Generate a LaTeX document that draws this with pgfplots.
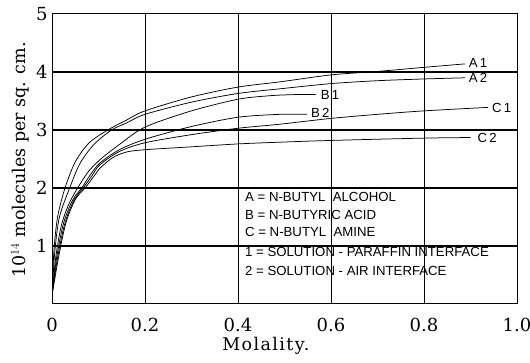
\documentclass[border=0pt]{standalone}
\usepackage{fontspec}
\setmainfont{DejaVu Serif}
\newfontfamily\lgfont{Liberation Sans}
\usepackage{pgfplots}
\pgfplotsset{compat=1.18}
\begin{document}
\begin{tikzpicture}
\useasboundingbox (-52pt,-59pt) rectangle (478pt,304pt);
\begin{axis}[
  at={(0,0)}, anchor=south west,
  scale only axis, width=465pt, height=290pt,
  xmin=0, xmax=1, ymin=0, ymax=5,
  xtick={0,0.2,0.4,0.6,0.8,1.0},
  xticklabels={0,0.2,0.4,0.6,0.8,1.0},
  ytick={1,2,3,4,5},
  major tick length=0pt,
  /pgf/number format/assume math mode=true,
  ticklabel style={font=\fontsize{18}{18}\selectfont},
  xticklabel style={yshift=-11pt},
  yticklabel style={xshift=-1pt},
  axis line style={black, line width=1pt},
  xmajorgrids,
  major grid style={black, line width=0.6pt},
  extra y ticks={1,2,3,4},
  extra y tick labels={},
  extra y tick style={grid=major, major grid style={black, line width=1.3pt}},
  xlabel={Molality.},
  ylabel={10$^{14}$ molecules per sq. cm.},
  xlabel style={at={(ticklabel cs:0.46)}, yshift=2pt, font=\fontsize{17.5}{17.5}\selectfont\addfontfeature{LetterSpace=8}},
  every axis y label/.style={at={(axis description cs:-0.069,0.497)}, rotate=90, anchor=center, font=\fontsize{17.5}{17.5}\selectfont},
]
% A1
\addplot[black, line width=0.75pt, smooth, tension=0.5] coordinates {
 (0,0.15) (0.004,0.9) (0.012,1.5) (0.028,2.0) (0.05,2.45) (0.08,2.78) (0.12,3.0)
 (0.16,3.17) (0.2,3.33) (0.3,3.57) (0.4,3.74) (0.49,3.83) (0.6,3.95) (0.7,4.01)
 (0.8,4.08) (0.888,4.14)};
% A2
\addplot[black, line width=0.75pt, smooth, tension=0.5] coordinates {
 (0,0.15) (0.006,0.9) (0.016,1.5) (0.038,2.0) (0.06,2.42) (0.09,2.75) (0.128,3.0)
 (0.16,3.12) (0.2,3.27) (0.3,3.48) (0.4,3.63) (0.49,3.71) (0.6,3.80) (0.7,3.85)
 (0.8,3.88) (0.888,3.90)};
% B1
\addplot[black, line width=0.75pt, smooth, tension=0.5] coordinates {
 (0,0.15) (0.008,0.8) (0.02,1.35) (0.035,1.7) (0.055,2.0) (0.08,2.3) (0.105,2.5)
 (0.145,2.75) (0.2,3.05) (0.3,3.33) (0.4,3.53) (0.467,3.59) (0.52,3.61) (0.567,3.61)};
% B2
\addplot[black, line width=0.75pt, smooth, tension=0.5] coordinates {
 (0,0.15) (0.01,0.8) (0.025,1.4) (0.045,1.8) (0.064,2.0) (0.08,2.2) (0.103,2.43)
 (0.145,2.66) (0.2,2.84) (0.3,3.06) (0.4,3.22) (0.49,3.27) (0.548,3.27)};
% C1
\addplot[black, line width=0.75pt, smooth, tension=0.5] coordinates {
 (0,0.15) (0.012,0.8) (0.028,1.4) (0.048,1.8) (0.067,2.0) (0.085,2.2) (0.103,2.40)
 (0.145,2.63) (0.2,2.78) (0.3,2.92) (0.4,3.03) (0.49,3.10) (0.6,3.20) (0.7,3.27)
 (0.8,3.33) (0.938,3.39)};
% C2
\addplot[black, line width=0.75pt, smooth, tension=0.5] coordinates {
 (0,0.15) (0.014,0.8) (0.03,1.4) (0.05,1.8) (0.071,2.0) (0.09,2.2) (0.103,2.34)
 (0.13,2.52) (0.16,2.62) (0.2,2.66) (0.3,2.71) (0.4,2.76) (0.49,2.79) (0.6,2.82)
 (0.8,2.86) (0.9,2.87)};
\begin{scope}[every node/.style={anchor=west, font=\lgfont\fontsize{13.2}{13.2}\selectfont, inner sep=0pt}]
\node at (axis cs:0.896,4.16) {A\,1};
\node at (axis cs:0.896,3.89) {A\,2};
\node at (axis cs:0.578,3.61) {B\,1};
\node at (axis cs:0.557,3.29) {B\,2};
\node at (axis cs:0.946,3.38) {C\,1};
\node at (axis cs:0.915,2.87) {C\,2};
\node at (axis cs:0.415,1.845) {A = N-BUTYL\ \ ALCOHOL};
\node at (axis cs:0.415,1.534) {B = N-BUTYRIC\ ACID};
\node at (axis cs:0.415,1.241) {C = N-BUTYL\ \ AMINE};
\node at (axis cs:0.415,0.897) {1 = SOLUTION - PARAFFIN\ INTERFACE};
\node at (axis cs:0.415,0.569) {2 = SOLUTION - AIR\ INTERFACE};
\end{scope}
\end{axis}
\end{tikzpicture}
\end{document}
